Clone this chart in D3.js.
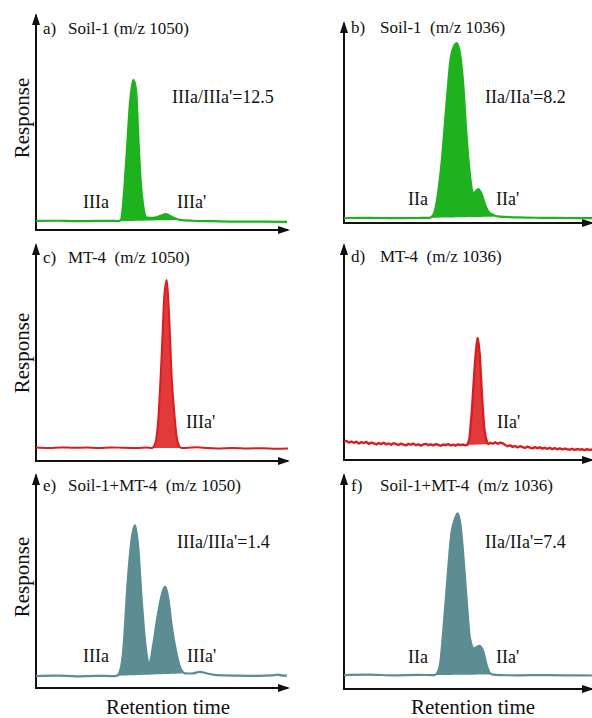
<!DOCTYPE html>
<html>
<head>
<meta charset="utf-8">
<script src="https://cdn.jsdelivr.net/npm/d3@7"></script>
<style>
  body { margin: 0; background: #fff; }
  text { font-family: "Liberation Serif", "Times New Roman", serif; fill: #111; white-space: pre; }
</style>
</head>
<body>
<div class="chart"></div>
<script>
// retention time (0-100, relative) vs response (0-100, relative to axis height)
var traceA = [[0,4.2],[8,4.3],[16,4.1],[24,4.2],[31,4.2],[32.8,4.1],[33.8,5.0],[34.6,12.6],[36.0,35.8],[37.3,59.1],[38.6,69.8],[39.7,65.1],[40.6,43.3],[41.5,23.4],[42.6,10.8],[43.9,5.8],[46.5,5.6],[49.2,6.5],[51.6,7.4],[53.8,6.2],[57.1,4.7],[62,4.3],[70,4.1],[80,3.9],[90,3.9],[99.6,3.8]];
var traceB = [[0,2.5],[10,2.6],[20,2.4],[30,2.5],[34.5,2.6],[36.2,4.5],[37.4,10.7],[39.4,30.7],[41.4,60.7],[43.0,82.3],[44.4,88.5],[45.4,90],[46.5,86.5],[48.1,69],[49.2,47.3],[50.5,27.3],[52.3,15],[54.2,17],[55.5,14.5],[56.9,9],[58.9,4.8],[62.9,3.2],[70,2.8],[80,2.6],[90,2.5],[100,2.4]];
var traceC = [[0,6.2],[5,6.0],[10,6.3],[15,6.1],[20,6.2],[25,6.0],[30,6.3],[35,6.1],[40,6.0],[44,6.2],[46.0,6.0],[47.4,8.5],[48.5,19],[49.9,49.8],[50.9,76],[51.9,83.8],[52.9,65.3],[53.9,37.5],[54.8,23.6],[55.8,11.3],[56.6,7.5],[57.8,6.0],[60,6.1],[64,6.4],[68,6.0],[72,5.8],[78,6.0],[84,5.8],[90,5.9],[95,5.7],[100,5.8]];
var traceD = [[0,8.4],[1,8.9],[2,8.1],[3,8.6],[4,8.0],[5,8.5],[6,7.7],[7,8.3],[8,7.9],[9,8.4],[10,7.5],[11,8.1],[12,7.8],[13,7.2],[14,7.9],[15,7.4],[16,8.0],[17,7.3],[18,7.7],[19,7.1],[20,7.8],[21,7.4],[22,7.0],[23,7.6],[24,7.2],[25,6.8],[26,7.5],[27,7.1],[28,7.6],[29,6.9],[30,7.3],[31,6.7],[32,7.2],[33,7.5],[34,6.9],[35,7.3],[36,6.8],[37,7.4],[38,7.0],[39,6.6],[40,7.2],[41,6.9],[42,7.4],[43,6.8],[44,7.1],[45,6.7],[46,7.3],[47,6.9],[48,7.2],[49,6.8],[49.8,7.0],[50.6,10],[51.5,21.7],[52.3,36],[52.8,45],[53.4,53],[53.9,56.6],[54.3,54],[54.8,48],[55.3,37],[55.9,24.8],[56.5,15],[57.1,10.8],[57.7,8.2],[58.2,7.4],[59,8.0],[60,7.6],[61,8.3],[62,7.5],[63,8.1],[64,7.8],[65,7.0],[66,6.4],[67,6.8],[68,6.1],[69,6.5],[70,5.9],[71,6.4],[72,6.0],[73,5.6],[74,6.2],[75,5.8],[76,5.4],[77,6.0],[78,5.5],[79,5.9],[80,5.3],[81,5.7],[82,5.2],[83,5.6],[84,5.1],[85,5.5],[86,5.0],[87,5.4],[88,4.9],[89,5.3],[90,5.0],[91,4.8],[92,5.2],[93,4.7],[94,5.1],[95,4.8],[96,5.0],[97,4.6],[98,5.0],[99,4.7],[100,4.9]];
var traceE = [[0,5.6],[8,5.8],[16,5.5],[24,5.7],[30,5.6],[32.0,5.7],[33.5,8.5],[34.7,18.6],[36.2,46.8],[38.0,70.3],[39.3,76.5],[40.6,65.6],[41.9,42.1],[43.3,21.7],[45.0,11.6],[46.5,20.2],[48.1,32.7],[49.9,43.7],[51.2,47.6],[52.5,42.1],[53.8,29.6],[55.6,17],[57.1,10],[59.1,6.9],[62,6.8],[65,7.6],[68,6.8],[72,6.0],[80,5.8],[88,5.7],[94,5.9],[96,6.3],[98,5.8],[99.6,5.8]];
var traceF = [[0,6.5],[10,6.7],[20,6.4],[30,6.6],[36.5,6.5],[37.8,8.0],[38.7,11.2],[40.0,26.8],[41.7,51.7],[43.4,73.5],[44.4,78.2],[45.8,82.1],[47.0,76.6],[48.1,62.6],[49.5,40.8],[50.8,23.7],[52.4,19],[54.6,20.2],[56.2,17.4],[57.5,11.2],[59.6,6.8],[63,6.5],[70,6.4],[80,6.5],[90,6.4],[100,6.3]];

// integrated peak windows (retention time)
var peakWindows = [[32.8,57.1],[34.5,62.9],[46.0,57.8],[49.8,58.2],[32.0,59.1],[36.5,59.6]];

var panelLetters = ["a)","b)","c)","d)","e)","f)"];
var sampleNames = ["Soil-1 (m/z 1050)","Soil-1  (m/z 1036)","MT-4  (m/z 1050)","MT-4  (m/z 1036)","Soil-1+MT-4  (m/z 1050)","Soil-1+MT-4  (m/z 1036)"];
var ratioLabels = ["IIIa/IIIa'=12.5","IIa/IIa'=8.2","","","IIIa/IIIa'=1.4","IIa/IIa'=7.4"];
var peakNames = [["IIIa","IIIa'"],["IIa","IIa'"],["","IIIa'"],["","IIa'"],["IIIa","IIIa'"],["IIa","IIa'"]];

var traces = [traceA, traceB, traceC, traceD, traceE, traceF];

var green = "#1fb21f", red = "#d81f1f", redFill = "#e23a3a", teal = "#5b8d93";

// layout of each small chart
var layout = [
  { x0: 36,  x1: 288, axisY: 230, tipY: 15,  line: green, fill: green, sw: 2.2, smooth: true,  ratio: [172,103], peaks: [[83,208],[177,208]], resp: 118 },
  { x0: 344, x1: 592, axisY: 223, tipY: 23,  line: green, fill: green, sw: 2.2, smooth: true,  ratio: [485,103], peaks: [[408,205],[496,205]] },
  { x0: 36,  x1: 288, axisY: 461, tipY: 245, line: red,   fill: redFill, sw: 2, smooth: true,  ratio: null,      peaks: [null,[186,428]], resp: 353 },
  { x0: 344, x1: 592, axisY: 460, tipY: 245, line: red,   fill: redFill, sw: 2.4, smooth: false, ratio: null,    peaks: [null,[497,428]] },
  { x0: 36,  x1: 288, axisY: 688, tipY: 475, line: teal,  fill: teal, sw: 2.2,  smooth: true,  ratio: [177,548], peaks: [[83,662],[187,662]], resp: 577 },
  { x0: 344, x1: 592, axisY: 689, tipY: 475, line: teal,  fill: teal, sw: 2.2,  smooth: true,  ratio: [485,548], peaks: [[408,663],[496,663]] }
];
var labelY = [34, 33, 263, 262, 491, 491];

var svg = d3.select(".chart").append("svg")
  .attr("width", 592)
  .attr("height", 718);

svg.append("defs").append("marker")
  .attr("id", "arrow")
  .attr("viewBox", "0 -4 12 8")
  .attr("refX", 10)
  .attr("refY", 0)
  .attr("markerWidth", 12)
  .attr("markerHeight", 8)
  .attr("markerUnits", "userSpaceOnUse")
  .attr("orient", "auto")
  .append("path")
  .attr("d", "M0,-4L12,0L0,4Z")
  .attr("fill", "#111");

layout.forEach(function(p, i) {
  var trace = traces[i];
  var x = d3.scaleLinear().domain([0, 100]).range([p.x0, p.x1]);
  var y = d3.scaleLinear().domain([0, 100]).range([p.axisY, p.tipY]);
  var curve = p.smooth ? d3.curveMonotoneX : d3.curveLinear;
  var g = svg.append("g");

  // axes with arrow heads
  g.append("path")
    .attr("d", "M" + (x(0) - 1) + "," + y(0) + "H" + x(100))
    .attr("stroke", "#111").attr("stroke-width", 2).attr("fill", "none")
    .attr("marker-end", "url(#arrow)");
  g.append("path")
    .attr("d", "M" + x(0) + "," + (y(0) + 1) + "V" + y(100))
    .attr("stroke", "#111").attr("stroke-width", 2).attr("fill", "none")
    .attr("marker-end", "url(#arrow)");

  // filled peak area between trace and straight baseline
  var win = peakWindows[i];
  var seg = trace.filter(function(d) { return d[0] >= win[0] && d[0] <= win[1]; });
  var base = d3.scaleLinear()
    .domain([seg[0][0], seg[seg.length - 1][0]])
    .range([seg[0][1], seg[seg.length - 1][1]]);
  g.append("path")
    .datum(seg)
    .attr("d", d3.area()
      .x(function(d) { return x(d[0]); })
      .y0(function(d) { return y(base(d[0])); })
      .y1(function(d) { return y(d[1]); })
      .curve(curve))
    .attr("fill", p.fill);

  g.append("path")
    .datum(trace)
    .attr("d", d3.line()
      .x(function(d) { return x(d[0]); })
      .y(function(d) { return y(d[1]); })
      .curve(curve))
    .attr("fill", "none")
    .attr("stroke", p.line)
    .attr("stroke-width", p.sw)
    .attr("stroke-linejoin", "round");

  // texts
  g.append("text").attr("x", p.x0 + 7).attr("y", labelY[i]).style("font-size", "17px").text(panelLetters[i]);
  g.append("text").attr("x", p.x0 + 32 + (i % 2 ? 4 : 0)).attr("y", labelY[i]).style("font-size", "17px").text(sampleNames[i]);

  if (p.ratio) {
    g.append("text").attr("x", p.ratio[0]).attr("y", p.ratio[1]).style("font-size", "18px").text(ratioLabels[i]);
  }
  p.peaks.forEach(function(pos, k) {
    if (!pos) return;
    g.append("text").attr("x", pos[0]).attr("y", pos[1]).style("font-size", "18px").text(peakNames[i][k]);
  });

  if (p.resp) {
    g.append("text")
      .attr("transform", "translate(29," + p.resp + ") rotate(-90)")
      .attr("text-anchor", "middle")
      .style("font-size", "21px")
      .text("Response");
  }
  if (i >= 4) {
    g.append("text")
      .attr("x", (i === 4 ? 168 : 473))
      .attr("y", 714)
      .attr("text-anchor", "middle")
      .style("font-size", "21px")
      .text("Retention time");
  }
});
</script>
</body>
</html>
